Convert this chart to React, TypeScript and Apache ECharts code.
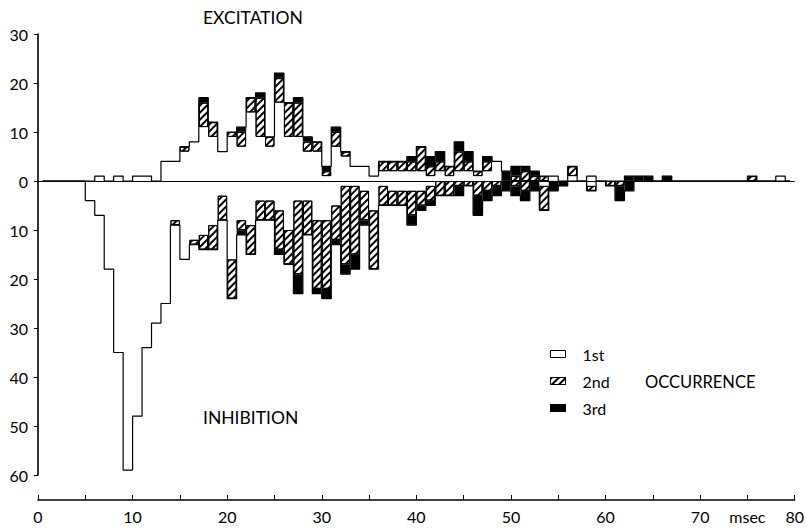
import React, { useEffect, useRef } from "react";
import * as echarts from "echarts";

// bins of 1 msec, 0..79
const binLabels: string[] = Array.from({ length: 80 }, (_, i) => String(i));

// EXCITATION (counts per bin)
const excit1st = [
  0, 0, 0, 0, 0, 0, 1, 0, 1, 0,
  1, 1, 0, 4, 4, 6, 8, 11, 9, 6,
  9, 7, 14, 9, 7, 16, 9, 9, 6, 6,
  1, 7, 5, 3, 3, 1, 2, 2, 2, 2,
  2, 1, 2, 1, 2, 2, 1, 2, 4, 0,
  0, 0, 0, 0, 1, 0, 1, 0, 1, 0,
  0, 0, 0, 0, 0, 0, 0, 0, 0, 0,
  0, 0, 0, 0, 0, 0, 0, 0, 1, 0,
];
const excit2nd = [
  0, 0, 0, 0, 0, 0, 0, 0, 0, 0,
  0, 0, 0, 0, 0, 1, 0, 5, 3, 0,
  1, 3, 3, 8, 2, 5, 7, 7, 2, 2,
  1, 3, 1, 0, 0, 0, 2, 2, 2, 2,
  5, 2, 2, 2, 4, 2, 1, 2, 0, 0,
  1, 2, 1, 1, 0, 0, 2, 0, 0, 0,
  0, 0, 0, 0, 0, 0, 0, 0, 0, 0,
  0, 0, 0, 0, 0, 1, 0, 0, 0, 0,
];
const excit3rd = [
  0, 0, 0, 0, 0, 0, 0, 0, 0, 0,
  0, 0, 0, 0, 0, 0, 0, 1, 0, 0,
  0, 1, 0, 1, 0, 1, 0, 1, 1, 0,
  1, 1, 0, 0, 0, 0, 0, 0, 0, 1,
  0, 2, 2, 0, 2, 2, 0, 1, 0, 2,
  2, 1, 1, 0, 0, 0, 0, 0, 0, 0,
  0, 0, 1, 1, 1, 0, 1, 0, 0, 0,
  0, 0, 0, 0, 0, 0, 0, 0, 0, 0,
];

// INHIBITION (counts per bin, drawn downward)
const inhib1st = [
  0, 0, 0, 0, 0, 4, 7, 18, 35, 59,
  48, 34, 29, 25, 8, 16, 12, 11, 9, 3,
  16, 8, 9, 4, 4, 6, 10, 4, 4, 8,
  8, 5, 1, 1, 2, 6, 1, 2, 2, 2,
  2, 1, 0, 0, 0, 0, 0, 0, 0, 0,
  0, 0, 0, 1, 0, 0, 0, 0, 1, 0,
  0, 0, 0, 0, 0, 0, 0, 0, 0, 0,
  0, 0, 0, 0, 0, 0, 0, 0, 0, 0,
];
const inhib2nd = [
  0, 0, 0, 0, 0, 0, 0, 0, 0, 0,
  0, 0, 0, 0, 1, 0, 1, 3, 5, 5,
  8, 2, 6, 4, 4, 8, 7, 15, 7, 14,
  14, 7, 16, 14, 6, 12, 4, 3, 3, 5,
  3, 3, 3, 3, 1, 1, 3, 2, 1, 0,
  1, 2, 0, 5, 0, 0, 0, 0, 1, 0,
  1, 1, 0, 0, 0, 0, 0, 0, 0, 0,
  0, 0, 0, 0, 0, 0, 0, 0, 0, 0,
];
const inhib3rd = [
  0, 0, 0, 0, 0, 0, 0, 0, 0, 0,
  0, 0, 0, 0, 0, 0, 0, 0, 0, 0,
  0, 1, 0, 0, 0, 1, 0, 4, 0, 1,
  2, 1, 2, 3, 1, 0, 0, 0, 0, 2,
  1, 1, 0, 0, 2, 0, 4, 2, 2, 2,
  2, 2, 2, 0, 2, 1, 0, 0, 0, 0,
  0, 3, 2, 0, 0, 0, 0, 0, 0, 0,
  0, 0, 0, 0, 0, 0, 0, 0, 0, 0,
];

const FONT = "Lato";

const toSeries = (arr: number[], sign: number) =>
  arr.map((v) => (v ? sign * v : "-"));

export default function App() {
  const ref = useRef<HTMLDivElement>(null);

  useEffect(() => {
    if (!ref.current) return;
    const chart = echarts.init(ref.current, undefined, { renderer: "svg" });

    const excitTotal = excit1st.map((v, i) => v + excit2nd[i] + excit3rd[i]);
    const inhibTotal = inhib1st.map((v, i) => -(v + inhib2nd[i] + inhib3rd[i]));

    const hatch = {
      symbol: "rect",
      symbolSize: 1,
      dashArrayX: [1, 0],
      dashArrayY: [1.8, 2.8],
      rotation: -Math.PI / 4,
      color: "#000",
      backgroundColor: "#fff",
    };

    const whiteStyle = { color: "#fff", borderWidth: 0 };
    const hatchStyle = { color: "#fff", borderColor: "#000", borderWidth: 1, decal: hatch };
    const blackStyle = { color: "#000", borderColor: "#000", borderWidth: 0.5 };

    const barBase = {
      type: "bar",
      stack: "all",
      xAxisIndex: 0,
      yAxisIndex: 0,
      barCategoryGap: "0%",
      barGap: "0%",
      emphasis: { disabled: true },
    };

    const option: any = {
      animation: false,
      backgroundColor: "#fff",
      grid: { left: 38, right: 11, top: 34, bottom: 53 },
      xAxis: [
        { type: "category", data: binLabels, show: false, boundaryGap: true },
        {
          type: "value",
          min: 0,
          max: 80,
          interval: 5,
          position: "bottom",
          offset: 25,
          axisLine: { show: true, lineStyle: { color: "#000", width: 1.6 } },
          axisTick: { show: true, inside: true, length: 5, lineStyle: { color: "#000", width: 1 } },
          axisLabel: {
            formatter: (v: number) => (v === 75 ? "msec" : v % 10 === 0 ? String(v) : ""),
            color: "#000",
            fontSize: 16,
            fontFamily: FONT,
            margin: 8,
          },
          splitLine: { show: false },
        },
      ],
      yAxis: {
        type: "value",
        min: -60,
        max: 30,
        interval: 10,
        axisLine: { show: true, lineStyle: { color: "#000", width: 1.6 } },
        axisTick: { show: true, length: 4, lineStyle: { color: "#000", width: 1 } },
        axisLabel: {
          formatter: (v: number) => String(Math.abs(v)),
          color: "#000",
          fontSize: 16,
          fontFamily: FONT,
          margin: 10,
        },
        splitLine: { show: false },
      },
      legend: {
        data: ["1st", "2nd", "3rd"],
        orient: "vertical",
        left: 545,
        top: 341,
        itemWidth: 15,
        itemHeight: 7,
        itemGap: 11,
        icon: "rect",
        itemStyle: { borderColor: "#000", borderWidth: 1 },
        textStyle: { fontSize: 16, color: "#000", fontFamily: FONT, lineHeight: 16, padding: [0, 0, 0, 12] },
        selectedMode: false,
      },
      graphic: [
        { type: "text", left: 203, top: 8, style: { text: "EXCITATION", font: `17.5px ${FONT}`, fill: "#000" } },
        { type: "text", left: 203, top: 408, style: { text: "INHIBITION", font: `17.5px ${FONT}`, fill: "#000" } },
        { type: "text", left: 645, top: 373, style: { text: "OCCURRENCE", font: `16.5px ${FONT}`, fill: "#000" } },
      ],
      series: [
        {
          ...barBase,
          name: "1st",
          data: toSeries(excit1st, 1),
          itemStyle: whiteStyle,
          markLine: {
            silent: true,
            symbol: "none",
            label: { show: false },
            lineStyle: { color: "#000", width: 1, type: "solid" },
            data: [{ yAxis: 0 }],
          },
        },
        { ...barBase, name: "2nd", data: toSeries(excit2nd, 1), itemStyle: hatchStyle },
        { ...barBase, name: "3rd", data: toSeries(excit3rd, 1), itemStyle: blackStyle },
        { ...barBase, name: "1st", data: toSeries(inhib1st, -1), itemStyle: whiteStyle },
        { ...barBase, name: "2nd", data: toSeries(inhib2nd, -1), itemStyle: hatchStyle },
        { ...barBase, name: "3rd", data: toSeries(inhib3rd, -1), itemStyle: blackStyle },
        {
          type: "line",
          name: "excitEnvelope",
          xAxisIndex: 0,
          step: "middle",
          data: excitTotal,
          symbol: "none",
          lineStyle: { color: "#000", width: 1.2 },
          z: 5,
          emphasis: { disabled: true },
        },
        {
          type: "line",
          name: "inhibEnvelope",
          xAxisIndex: 0,
          step: "middle",
          data: inhibTotal,
          symbol: "none",
          lineStyle: { color: "#000", width: 1.2 },
          z: 5,
          emphasis: { disabled: true },
        },
      ],
    };

    chart.setOption(option);
    return () => chart.dispose();
  }, []);

  return (
    <div
      ref={ref}
      style={{ position: "fixed", left: 0, top: 0, width: 807, height: 528, background: "#fff" }}
    />
  );
}
